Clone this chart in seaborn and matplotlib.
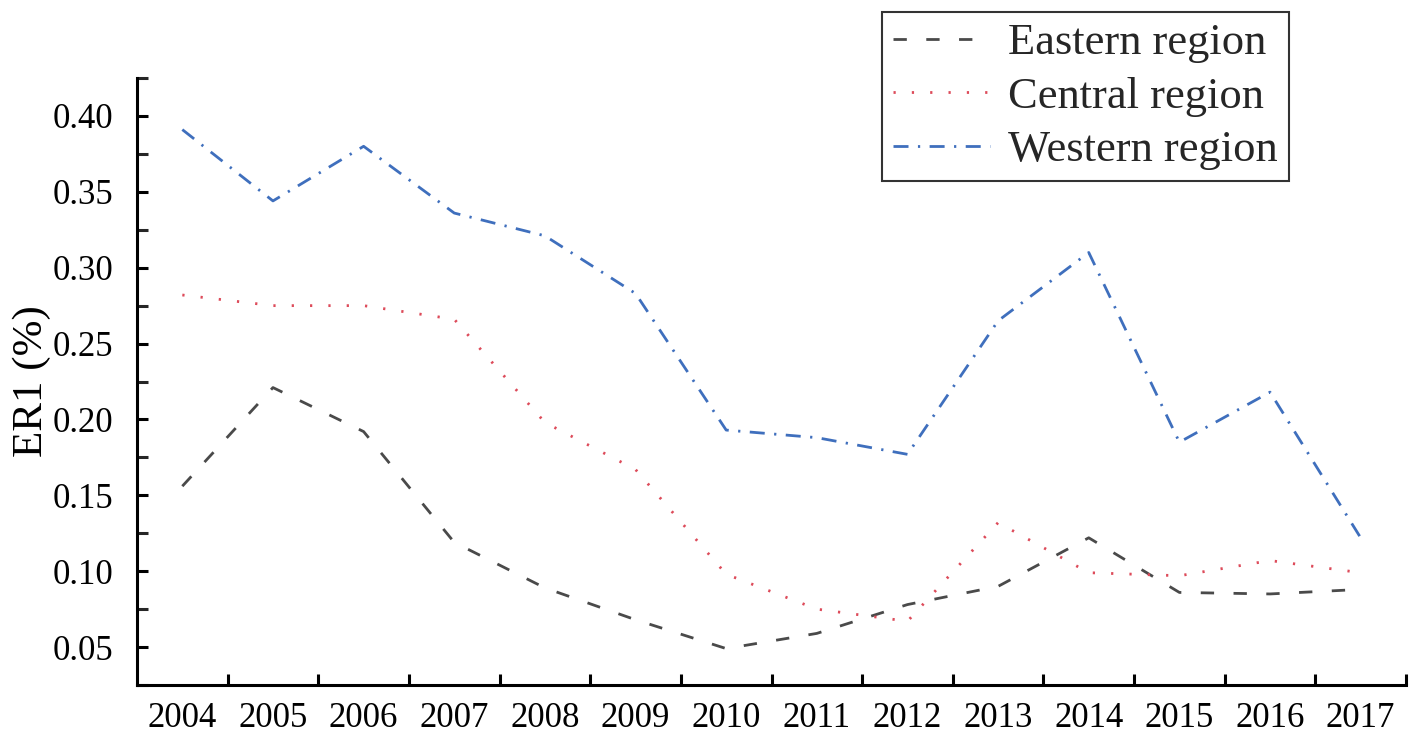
import matplotlib
matplotlib.use("Agg")
import matplotlib.pyplot as plt
from matplotlib.ticker import FixedLocator, MultipleLocator, NullFormatter
import pandas as pd
import seaborn as sns

# ER1 by region, 2004-2017
years = list(range(2004, 2018))
eastern = [0.156, 0.221, 0.192, 0.119, 0.089, 0.068, 0.049, 0.059, 0.078, 0.090, 0.122, 0.086, 0.085, 0.088]
central = [0.282, 0.275, 0.275, 0.266, 0.198, 0.167, 0.098, 0.075, 0.067, 0.132, 0.099, 0.097, 0.107, 0.099]
western = [0.391, 0.344, 0.380, 0.336, 0.321, 0.283, 0.193, 0.188, 0.177, 0.265, 0.310, 0.185, 0.218, 0.122]
region_names = ["Eastern region", "Central region", "Western region"]
y_ticks = [0.05, 0.10, 0.15, 0.20, 0.25, 0.30, 0.35, 0.40]

df = pd.DataFrame({
    "year": years * 3,
    "ER1": eastern + central + western,
    "region": [region_names[0]] * len(years)
              + [region_names[1]] * len(years)
              + [region_names[2]] * len(years),
})

sns.set_theme(style="ticks")
plt.rcParams["font.family"] = ["Liberation Serif", "DejaVu Serif"]

fig = plt.figure(figsize=(14.15, 7.32), dpi=100)
ax = fig.add_axes([137 / 1415, 1 - 685 / 732, (1406 - 137) / 1415, (685 - 78) / 732])

palette = {region_names[0]: "#4a4a4a", region_names[1]: "#dd4b5a", region_names[2]: "#3f6fbd"}
dashes = {region_names[0]: (4.8, 7.0), region_names[1]: (0.8, 5.8), region_names[2]: (5.4, 3.4, 0.8, 3.4)}

sns.lineplot(data=df, x="year", y="ER1", hue="region", style="region",
             palette=palette, dashes=dashes, linewidth=2.0, ax=ax, legend=False)

# axis ranges and ticks
ax.set_xlim(years[0] - 0.5, years[-1] + 0.5)
ax.set_ylim(0.025, 0.425)
ax.xaxis.set_major_locator(FixedLocator([y + 0.5 for y in years]))
ax.xaxis.set_major_formatter(NullFormatter())
ax.xaxis.set_minor_locator(FixedLocator(years))
ax.set_xticklabels([str(y) for y in years], minor=True)
ax.yaxis.set_major_locator(FixedLocator(y_ticks))
ax.set_yticklabels([f"{v:.2f}" for v in y_ticks])
ax.yaxis.set_minor_locator(MultipleLocator(0.025))

ax.tick_params(axis="both", which="major", direction="in", length=8, width=2.2,
               labelsize=25, color="black", labelcolor="black")
ax.tick_params(axis="y", which="minor", direction="in", length=8, width=2.2)
ax.tick_params(axis="x", which="minor", length=0, labelsize=25, pad=12, labelcolor="black")
ax.tick_params(axis="y", which="major", pad=17)

for side in ("top", "right"):
    ax.spines[side].set_visible(False)
for side in ("left", "bottom"):
    ax.spines[side].set_linewidth(2.2)
    ax.spines[side].set_color("black")

ax.set_xlabel("")
ax.set_ylabel("ER1 (%)", fontsize=31, color="black")
ax.yaxis.set_label_coords(-0.068, 0.5)

# legend built from the same line styles
handles = [
    plt.Line2D([], [], color=palette[n], linewidth=2.0, dashes=dashes[n])
    for n in region_names
]
leg = fig.legend(handles, region_names, loc="upper right",
                 bbox_to_anchor=(1289 / 1415, 1 - 12 / 732),
                 fontsize=32, frameon=True, fancybox=False, handlelength=2.2,
                 handletextpad=0.4, labelspacing=0.3, borderpad=0.25,
                 borderaxespad=0)
leg.get_frame().set_edgecolor("black")
leg.get_frame().set_linewidth(1.5)

fig.savefig("out.png", dpi=100, facecolor="white")
